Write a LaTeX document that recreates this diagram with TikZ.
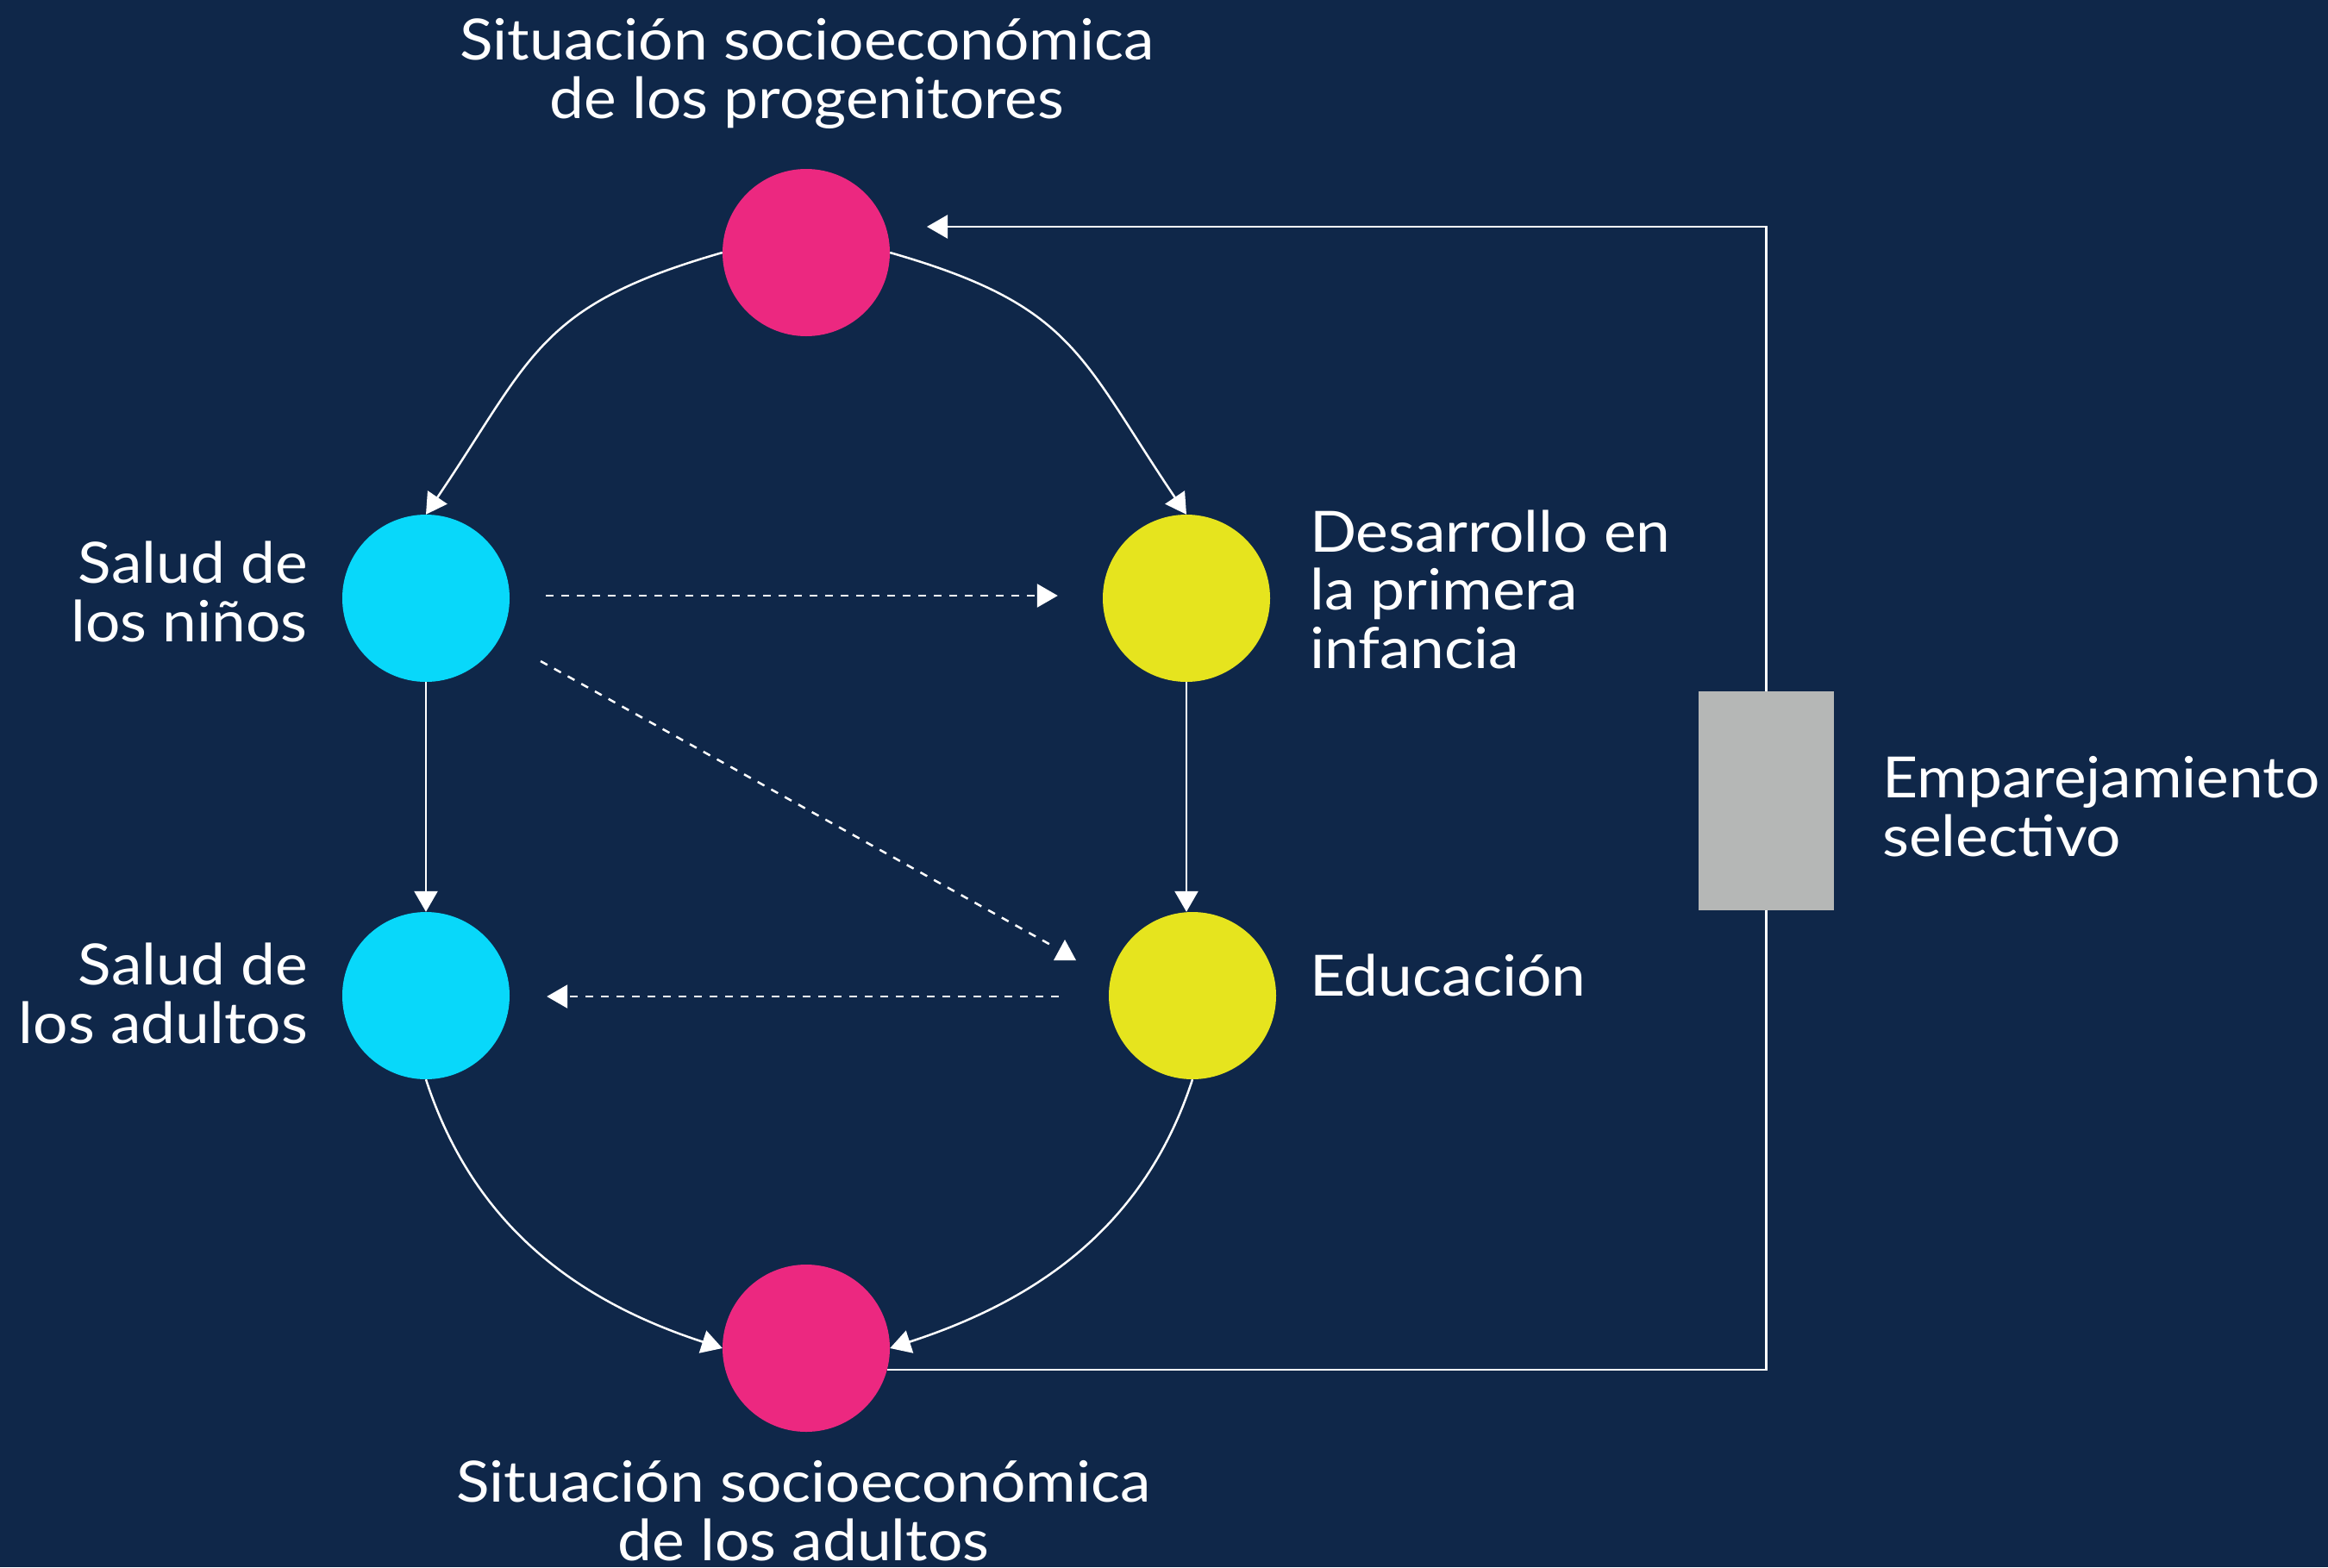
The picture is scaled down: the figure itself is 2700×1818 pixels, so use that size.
\documentclass[tikz,border=0pt]{standalone}
\usepackage{fontspec}
\setmainfont{Lato}[FakeStretch=1.08]
\usetikzlibrary{arrows.meta,calc}
\definecolor{bgc}{RGB}{15,39,73}
\definecolor{pinkc}{RGB}{236,40,128}
\definecolor{cyanc}{RGB}{8,216,250}
\definecolor{yellowc}{RGB}{230,228,30}
\definecolor{grayc}{RGB}{181,183,182}
\begin{document}
\begin{tikzpicture}[x=1pt,y=1pt,
  dot/.style={circle,minimum size=194pt,inner sep=0pt,draw=none},
  arr/.style={draw=white,line width=2.5pt,-{Triangle[width=27pt,length=24pt]}},
  darr/.style={arr,dash pattern=on 9pt off 9pt},
  dline/.style={draw=white,line width=2.5pt,dash pattern=on 9pt off 9pt},
  lbl/.style={text=white,font=\fontsize{66}{67.5}\selectfont,inner sep=0pt},
  grect/.style={fill=grayc,minimum width=157pt,minimum height=254pt,inner sep=0pt}]
\fill[bgc] (0,0) rectangle (2700,-1818);
\useasboundingbox (0,0) rectangle (2700,-1818);
% circles
\node[dot,fill=pinkc] (top) at (935,-293) {};
\node[dot,fill=cyanc] (ch) at (494,-694) {};
\node[dot,fill=yellowc] (ecd) at (1376,-694) {};
\node[dot,fill=cyanc] (ah) at (494,-1155) {};
\node[dot,fill=yellowc] (edu) at (1383,-1155) {};
\node[dot,fill=pinkc] (bot) at (935,-1564) {};
% labels (anchor base = baseline of last line)
\node[lbl,align=center,anchor=base] (ttop) at (936,-137) {Situación socioeconómica\\de los progenitores};
\node[lbl,align=center,anchor=base] (tbot) at (932,-1810) {Situación socioeconómica\\de los adultos};
\node[lbl,align=right,anchor=base east] (tch) at (357,-744) {Salud de\\los niños};
\node[lbl,align=right,anchor=base east] (tah) at (357,-1210) {Salud de\\los adultos};
\node[lbl,align=left,anchor=base west] (tecd) at (1519,-775) {Desarrollo en\\la primera\\infancia};
\node[lbl,align=left,anchor=base west] (tedu) at (1519,-1155) {Educación};
\node[lbl,align=left,anchor=base west] (tasm) at (2183,-993) {Emparejamiento\\selectivo};
% curved arrows
\draw[arr] (top.west) to[out=196,in=56,looseness=1.24] (ch.north);
\draw[arr] (top.east) to[out=-16,in=124,looseness=1.24] (ecd.north);
\draw[arr] (ah.south) to[out=-72,in=162,looseness=0.98] (bot.west);
\draw[arr] (edu.south) to[out=252,in=18,looseness=0.98] (bot.east);
% straight arrows
\draw[arr] (ch.south) -- (ah.north);
\draw[arr] (ecd.south) -- (ecd.south |- edu.north);
% dashed arrows
\draw[darr] ($(ch.east)+(42,3)$) -- ($(ecd.west)+(-52,3)$);
\draw[darr] ($(edu.west)+(-58,-1)$) -- ($(ah.east)+(43,-1)$);
\coordinate (dgend) at (1222,-1098);
\draw[dline] ($(ch.center)+(133,-73)$) -- (dgend);
\fill[white] (1235,-1090) -- (1248,-1114) -- (1222,-1114) -- cycle;
% feedback loop
\coordinate (asmc) at (2048.5,-929);
\coordinate (fbtip) at (1075,-263);
\draw[arr] (bot.345) -| (asmc) |- (fbtip);
\node[grect] (asm) at (asmc) {};
\end{tikzpicture}
\end{document}
